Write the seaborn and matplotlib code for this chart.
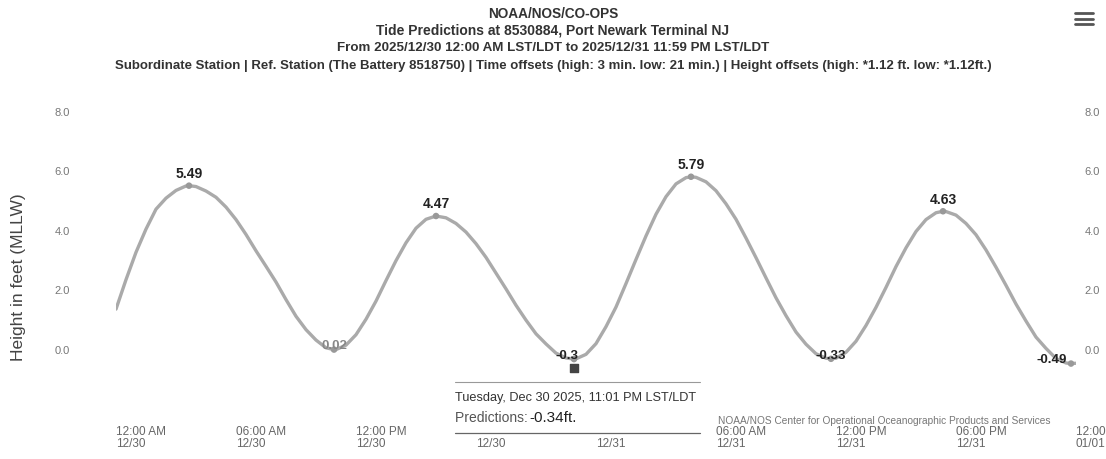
import pandas as pd
import matplotlib
matplotlib.use("Agg")
import matplotlib.pyplot as plt
from matplotlib.ticker import FormatStrFormatter
from matplotlib.lines import Line2D
from matplotlib.patches import Rectangle
import seaborn as sns

# predicted heights (ft, MLLW) every 30 min from 12/30 00:00, last one at 12/31 23:59
hours = [i / 2 for i in range(96)] + [47 + 59 / 60]
heights = [1.34, 2.33, 3.25, 4.03, 4.70, 5.07, 5.33, 5.48, 5.46, 5.31, 5.10, 4.77,
           4.35, 3.85, 3.30, 2.78, 2.25, 1.66, 1.10, 0.65, 0.30, 0.04, -0.02, 0.13,
           0.48, 1.00, 1.61, 2.30, 2.97, 3.57, 4.06, 4.36, 4.47, 4.41, 4.22, 3.93,
           3.54, 3.08, 2.55, 2.02, 1.47, 0.97, 0.51, 0.17, -0.14, -0.30, -0.33, -0.18,
           0.18, 0.75, 1.41, 2.20, 3.01, 3.80, 4.53, 5.12, 5.55, 5.76, 5.77, 5.62,
           5.32, 4.88, 4.36, 3.73, 3.07, 2.39, 1.72, 1.12, 0.57, 0.16, -0.16, -0.31,
           -0.31, -0.11, 0.26, 0.79, 1.40, 2.07, 2.77, 3.40, 3.95, 4.35, 4.58, 4.62,
           4.50, 4.22, 3.84, 3.33, 2.75, 2.14, 1.51, 0.94, 0.40, 0.02, -0.32, -0.47,
           -0.48]

# high / low tides
hl_hours = [3.65, 10.9, 16.0, 22.9, 28.75, 35.75, 41.35, 47.75]
hl_values = [5.49, -0.02, 4.47, -0.34, 5.79, -0.33, 4.63, -0.49]
hl_labels = ["5.49", "0.02", "4.47", "-0.3", "5.79", "-0.33", "4.63", "-0.49"]
hl_type = ["H", "L", "H", "L", "H", "L", "H", "L"]

start = pd.Timestamp("2025-12-30 00:00")
df = pd.DataFrame({"t": start + pd.to_timedelta(hours, unit="h"), "h": heights})
df_hl = pd.DataFrame({"t": start + pd.to_timedelta(hl_hours, unit="h"), "h": hl_values,
                      "label": hl_labels, "kind": hl_type})
curve = pd.concat([df, df_hl[["t", "h"]]]).sort_values("t")

sns.set_theme(style="white")
plt.rcParams["font.family"] = ["Liberation Sans", "DejaVu Sans"]

W, H = 1106, 460
fig = plt.figure(figsize=(W / 100, H / 100), dpi=100)
ax = fig.add_axes([116 / W, 1 - 408 / H, 960 / W, 296 / H])

sns.lineplot(data=curve, x="t", y="h", ax=ax, color="#aaaaaa", linewidth=2.4)
sns.scatterplot(data=df_hl, x="t", y="h", ax=ax, color="#999999", s=22,
                edgecolor="none", zorder=3)
# hovered point marker
hov = df_hl.iloc[3]
ax.scatter([hov["t"]], [hov["h"] - 0.3], marker="s", s=38, color="#444444", zorder=4)

low_dx = {"0.02": 0, "-0.3": -5, "-0.33": 0, "-0.49": -14}
for _, r in df_hl.iterrows():
    if r["kind"] == "H":
        ax.annotate(r["label"], (r["t"], r["h"]), xytext=(0, 4), textcoords="offset points",
                    ha="center", va="bottom", fontsize=10, fontweight="bold", color="#222222")
    else:
        col = "#888888" if r["label"] == "0.02" else "#222222"
        ax.annotate(r["label"], (r["t"], r["h"]), xytext=(low_dx[r["label"]], 3),
                    textcoords="offset points", ha="center", va="center",
                    fontsize=9.5, fontweight="bold", color=col)

ax.set_ylim(-1.95, 8)
ax.set_xlim(start, start + pd.Timedelta(hours=48))
ax.set_yticks([0, 2, 4, 6, 8])
ax.yaxis.set_major_formatter(FormatStrFormatter("%.1f"))
ticks = pd.date_range(start, periods=9, freq="6h")
ax.set_xticks(ticks)
ax.set_xticklabels([t.strftime("%I:%M %p\n%m/%d") for t in ticks], ha="left",
                   fontsize=8.5, color="#666666", linespacing=0.95)
ax.tick_params(axis="x", length=0, pad=13)
ax.tick_params(axis="y", length=0, pad=33, labelsize=8, labelcolor="#777777")
ax.set_xlabel("")
ax.set_ylabel("Height in feet (MLLW)", fontsize=12.5, color="#444444")
ax.yaxis.set_label_coords(-0.094, 0.443)
for s in ax.spines.values():
    s.set_visible(False)
ax.grid(False)

# right-hand axis labels
ax2 = ax.twinx()
ax2.set_ylim(ax.get_ylim())
ax2.set_yticks([0, 2, 4, 6, 8])
ax2.yaxis.set_major_formatter(FormatStrFormatter("%.1f"))
ax2.tick_params(axis="y", length=0, pad=6, labelsize=8, labelcolor="#777777")
for s in ax2.spines.values():
    s.set_visible(False)
ax2.grid(False)

def fx(px):
    return px / W

def fy(py):
    return 1 - py / H

titles = [
    ("NOAA/NOS/CO-OPS", 14, 9.8),
    ("Tide Predictions at 8530884, Port Newark Terminal NJ", 31, 10),
    ("From 2025/12/30 12:00 AM LST/LDT to 2025/12/31 11:59 PM LST/LDT", 48, 9.6),
    ("Subordinate Station | Ref. Station (The Battery 8518750) | Time offsets (high: 3 min. low: 21 min.) "
     "| Height offsets (high: *1.12 ft. low: *1.12ft.)", 66, 9.5),
]
for txt, py, fs in titles:
    fig.text(fx(553), fy(py), txt, ha="center", va="center", fontsize=fs,
             fontweight="bold", color="#333333")

# menu icon
for py in (14, 20, 25):
    fig.add_artist(Line2D([fx(1075), fx(1093)], [fy(py), fy(py)], color="#555555", lw=2))

# tooltip box (hides the labels underneath it)
fig.add_artist(Rectangle((fx(452), fy(436.5)), fx(702) - fx(452), fy(379) - fy(436.5),
                         facecolor="white", edgecolor="none", zorder=5))
fig.add_artist(Line2D([fx(455), fx(700)], [fy(383), fy(383)], color="#999999", lw=0.8,
                      zorder=6))
fig.add_artist(Line2D([fx(455), fx(700)], [fy(434), fy(434)], color="#666666", lw=0.9,
                      zorder=6))
fig.text(fx(455), fy(398), "Tuesday, Dec 30 2025, 11:01 PM LST/LDT", ha="left", va="center",
         fontsize=9.2, color="#333333", zorder=7)
fig.text(fx(455), fy(418), "Predictions: ", ha="left", va="center", fontsize=10,
         color="#555555", zorder=7)
fig.text(fx(529), fy(418), "-0.34ft.", ha="left", va="center", fontsize=11,
         color="#222222", zorder=7)

fig.text(fx(718), fy(421), "NOAA/NOS Center for Operational Oceanographic Products and Services",
         ha="left", va="center", fontsize=7.3, color="#777777")

fig.savefig("out.png", dpi=100)
